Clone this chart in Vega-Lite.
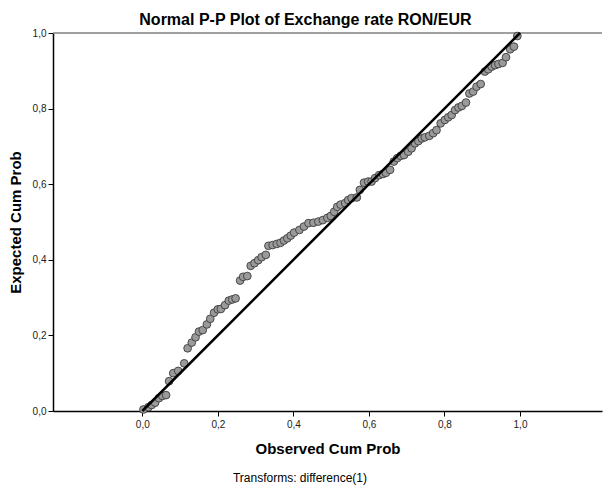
{
  "$schema": "https://vega.github.io/schema/vega-lite/v6.json",
  "width": 549,
  "height": 378,
  "autosize": {"type": "none"},
  "padding": {"left": 53, "top": 33, "right": 1, "bottom": 75},
  "background": "white",
  "config": {
    "view": {"stroke": null},
    "font": "Liberation Sans",
    "axis": {
      "grid": false,
      "domainColor": "black",
      "domainWidth": 1.5,
      "tickColor": "black",
      "tickSize": 5,
      "labelFontSize": 10,
      "labelColor": "#222222",
      "labelFont": "Liberation Sans",
      "titleFont": "Liberation Sans",
      "titleFontSize": 15,
      "titleFontWeight": "bold",
      "titleColor": "black"
    }
  },
  "title": {
    "text": "Normal P-P Plot of Exchange rate RON/EUR",
    "anchor": "middle",
    "frame": "bounds",
    "font": "Liberation Sans",
    "fontSize": 16,
    "fontWeight": "bold",
    "color": "black",
    "offset": 0
  },
  "datasets": {
    "pts": [
      {"obs": 0.003, "exp": 0.004}, {"obs": 0.016, "exp": 0.010}, {"obs": 0.025, "exp": 0.016}, {"obs": 0.034, "exp": 0.022},
      {"obs": 0.044, "exp": 0.034}, {"obs": 0.053, "exp": 0.040}, {"obs": 0.063, "exp": 0.042}, {"obs": 0.071, "exp": 0.079},
      {"obs": 0.082, "exp": 0.100}, {"obs": 0.095, "exp": 0.106}, {"obs": 0.111, "exp": 0.126}, {"obs": 0.120, "exp": 0.166},
      {"obs": 0.131, "exp": 0.181}, {"obs": 0.141, "exp": 0.195}, {"obs": 0.150, "exp": 0.210}, {"obs": 0.160, "exp": 0.214},
      {"obs": 0.171, "exp": 0.229}, {"obs": 0.180, "exp": 0.244}, {"obs": 0.190, "exp": 0.260}, {"obs": 0.200, "exp": 0.269},
      {"obs": 0.208, "exp": 0.270}, {"obs": 0.219, "exp": 0.280}, {"obs": 0.229, "exp": 0.292}, {"obs": 0.238, "exp": 0.295},
      {"obs": 0.247, "exp": 0.298}, {"obs": 0.259, "exp": 0.345}, {"obs": 0.267, "exp": 0.355}, {"obs": 0.278, "exp": 0.357},
      {"obs": 0.287, "exp": 0.384}, {"obs": 0.297, "exp": 0.391}, {"obs": 0.307, "exp": 0.399}, {"obs": 0.316, "exp": 0.407},
      {"obs": 0.327, "exp": 0.413}, {"obs": 0.334, "exp": 0.437}, {"obs": 0.345, "exp": 0.439}, {"obs": 0.356, "exp": 0.442},
      {"obs": 0.366, "exp": 0.445}, {"obs": 0.375, "exp": 0.451}, {"obs": 0.384, "exp": 0.457}, {"obs": 0.393, "exp": 0.464},
      {"obs": 0.402, "exp": 0.472}, {"obs": 0.416, "exp": 0.479}, {"obs": 0.428, "exp": 0.488}, {"obs": 0.440, "exp": 0.497},
      {"obs": 0.453, "exp": 0.498}, {"obs": 0.466, "exp": 0.501}, {"obs": 0.478, "exp": 0.505}, {"obs": 0.490, "exp": 0.511},
      {"obs": 0.499, "exp": 0.516}, {"obs": 0.508, "exp": 0.527}, {"obs": 0.516, "exp": 0.540}, {"obs": 0.525, "exp": 0.546},
      {"obs": 0.537, "exp": 0.550}, {"obs": 0.545, "exp": 0.558}, {"obs": 0.554, "exp": 0.563}, {"obs": 0.568, "exp": 0.565},
      {"obs": 0.576, "exp": 0.585}, {"obs": 0.587, "exp": 0.604}, {"obs": 0.598, "exp": 0.607}, {"obs": 0.607, "exp": 0.607},
      {"obs": 0.616, "exp": 0.616}, {"obs": 0.627, "exp": 0.624}, {"obs": 0.637, "exp": 0.627}, {"obs": 0.645, "exp": 0.630},
      {"obs": 0.656, "exp": 0.638}, {"obs": 0.666, "exp": 0.660}, {"obs": 0.675, "exp": 0.669}, {"obs": 0.684, "exp": 0.675},
      {"obs": 0.693, "exp": 0.677}, {"obs": 0.704, "exp": 0.686}, {"obs": 0.713, "exp": 0.695}, {"obs": 0.722, "exp": 0.708},
      {"obs": 0.731, "exp": 0.714}, {"obs": 0.740, "exp": 0.721}, {"obs": 0.748, "exp": 0.724}, {"obs": 0.760, "exp": 0.728},
      {"obs": 0.770, "exp": 0.735}, {"obs": 0.779, "exp": 0.743}, {"obs": 0.790, "exp": 0.761}, {"obs": 0.801, "exp": 0.770},
      {"obs": 0.810, "exp": 0.777}, {"obs": 0.819, "exp": 0.783}, {"obs": 0.828, "exp": 0.796}, {"obs": 0.837, "exp": 0.803},
      {"obs": 0.846, "exp": 0.807}, {"obs": 0.857, "exp": 0.816}, {"obs": 0.866, "exp": 0.840}, {"obs": 0.876, "exp": 0.845},
      {"obs": 0.885, "exp": 0.858}, {"obs": 0.896, "exp": 0.865}, {"obs": 0.907, "exp": 0.898}, {"obs": 0.916, "exp": 0.904},
      {"obs": 0.925, "exp": 0.911}, {"obs": 0.934, "exp": 0.915}, {"obs": 0.943, "exp": 0.918}, {"obs": 0.954, "exp": 0.921},
      {"obs": 0.963, "exp": 0.936}, {"obs": 0.974, "exp": 0.957}, {"obs": 0.984, "exp": 0.964}, {"obs": 0.993, "exp": 0.992}
    ],
    "ref": [{"obs": 0, "exp": 0}, {"obs": 1, "exp": 1}],
    "frame": [{"exp": 1}],
    "note": [{"text": "Transforms: difference(1)"}]
  },
  "layer": [
    {
      "data": {"name": "frame"},
      "mark": {"type": "rule", "color": "#808080", "strokeWidth": 1.5},
      "encoding": {
        "y": {"field": "exp", "type": "quantitative", "scale": {"domain": [0, 1], "nice": false, "zero": false}}
      }
    },
    {
      "data": {"name": "pts"},
      "mark": {"type": "point", "shape": "circle", "filled": true, "size": 60, "fill": "#9a9a9a", "stroke": "#3c3c3c", "strokeWidth": 0.9, "opacity": 1},
      "encoding": {
        "x": {
          "field": "obs", "type": "quantitative",
          "scale": {"domain": [-0.2364, 1.2171], "nice": false, "zero": false},
          "axis": {
            "values": [0, 0.2, 0.4, 0.6, 0.8, 1.0],
            "labelExpr": "replace(format(datum.value, '.1f'), '.', ',')",
            "title": "Observed Cum Prob",
            "titlePadding": 12,
            "labelPadding": 3
          }
        },
        "y": {
          "field": "exp", "type": "quantitative",
          "scale": {"domain": [0, 1], "nice": false, "zero": false},
          "axis": {
            "values": [0, 0.2, 0.4, 0.6, 0.8, 1.0],
            "labelExpr": "replace(format(datum.value, '.1f'), '.', ',')",
            "title": "Expected Cum Prob",
            "titlePadding": 9,
            "labelPadding": 2
          }
        }
      }
    },
    {
      "data": {"name": "ref"},
      "mark": {"type": "line", "color": "black", "strokeWidth": 2.5},
      "encoding": {
        "x": {"field": "obs", "type": "quantitative"},
        "y": {"field": "exp", "type": "quantitative"}
      }
    },
    {
      "data": {"name": "note"},
      "mark": {"type": "text", "font": "Liberation Sans", "fontSize": 12, "color": "black", "baseline": "middle", "align": "center"},
      "encoding": {
        "x": {"datum": 0.4175, "type": "quantitative"},
        "y": {"datum": -0.177, "type": "quantitative"},
        "text": {"field": "text"}
      }
    }
  ]
}
